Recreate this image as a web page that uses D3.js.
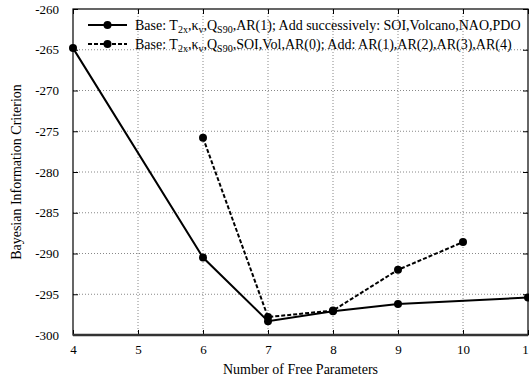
<!DOCTYPE html>
<html>
<head>
<meta charset="utf-8">
<script src="https://cdn.jsdelivr.net/npm/d3@7"></script>
<style>
  body { margin: 0; background: #fff; }
  text { font-family: "Liberation Serif", "Times New Roman", serif; }
</style>
</head>
<body>
<svg id="chart" width="529" height="380"></svg>
<script>
// data
const xTicks = [4, 5, 6, 7, 8, 9, 10, 11];
const yTicks = [-260, -265, -270, -275, -280, -285, -290, -295, -300];

const solidX = [4, 6, 7, 8, 9, 11];
const solidY = [-264.8, -290.5, -298.3, -297.1, -296.2, -295.4];

const dashX = [6, 7, 8, 9, 10];
const dashY = [-275.8, -297.8, -297.0, -292.0, -288.6];

const serif = "Liberation Serif, Times New Roman, serif";
const svg = d3.select("#chart").attr("font-family", serif);
const margin = { left: 73, right: 1, top: 9, bottom: 45 };
const width = 529, height = 380;

const x = d3.scaleLinear().domain([4, 11]).range([margin.left, width - margin.right]);
const y = d3.scaleLinear().domain([-300, -260]).range([height - margin.bottom, margin.top]);

// grid
const grid = svg.append("g").attr("stroke", "#888").attr("stroke-width", 1).attr("stroke-dasharray", "1,2");
grid.selectAll("line.v").data(xTicks.slice(1, -1)).join("line")
  .attr("x1", d => x(d)).attr("x2", d => x(d))
  .attr("y1", y(-300)).attr("y2", y(-260));
grid.selectAll("line.h").data(yTicks.slice(1, -1)).join("line")
  .attr("x1", x(4)).attr("x2", x(11))
  .attr("y1", d => y(d)).attr("y2", d => y(d));

// axes, ticks pointing inward on all four sides
const tickStyle = g => {
  g.attr("font-family", null).attr("font-size", 13);
  g.select(".domain").remove();
  g.selectAll("text").attr("fill", "#000").style("font-family", serif);
  g.selectAll("line").attr("stroke", "#000");
};
const fmt = d => String(d);
svg.append("g").attr("transform", `translate(0,${y(-300)})`)
  .call(d3.axisBottom(x).tickValues(xTicks).tickSize(-5).tickPadding(10).tickFormat(fmt))
  .call(tickStyle);
svg.append("g").attr("transform", `translate(0,${y(-260)})`)
  .call(d3.axisTop(x).tickValues(xTicks).tickSize(-5).tickFormat(""))
  .call(tickStyle);
svg.append("g").attr("transform", `translate(${x(4)},0)`)
  .call(d3.axisLeft(y).tickValues(yTicks).tickSize(-5).tickPadding(14).tickFormat(fmt))
  .call(tickStyle);
svg.append("g").attr("transform", `translate(${x(11)},0)`)
  .call(d3.axisRight(y).tickValues(yTicks).tickSize(-5).tickFormat(""))
  .call(tickStyle);

// frame
svg.append("rect")
  .attr("x", x(4)).attr("y", y(-260))
  .attr("width", x(11) - x(4)).attr("height", y(-300) - y(-260))
  .attr("fill", "none").attr("stroke", "#000").attr("stroke-width", 1.2);
svg.append("line")
  .attr("x1", x(4)).attr("x2", x(11)).attr("y1", y(-300)).attr("y2", y(-300))
  .attr("stroke", "#333").attr("stroke-width", 2.5);

// series
const line = d3.line().x(d => x(d[0])).y(d => y(d[1]));
const solid = solidX.map((v, i) => [v, solidY[i]]);
const dashed = dashX.map((v, i) => [v, dashY[i]]);

svg.append("path").datum(dashed).attr("d", line)
  .attr("fill", "none").attr("stroke", "#000").attr("stroke-width", 2).attr("stroke-dasharray", "4,2");
svg.append("path").datum(solid).attr("d", line)
  .attr("fill", "none").attr("stroke", "#000").attr("stroke-width", 2);

svg.append("g").selectAll("circle").data(solid.concat(dashed)).join("circle")
  .attr("cx", d => x(d[0])).attr("cy", d => y(d[1])).attr("r", 4).attr("fill", "#000");

// legend
const legend = svg.append("g").attr("transform", "translate(88,25)");
const legendRows = [
  { dash: null, parts: [["Base: T"], ["2x", "sub"], [",κ"], ["v", "sub"], [",Q"], ["S90", "sub"], [",AR(1); Add successively: SOI,Volcano,NAO,PDO"]] },
  { dash: "4,2", parts: [["Base: T"], ["2x", "sub"], [",κ"], ["v", "sub"], [",Q"], ["S90", "sub"], [",SOI,Vol,AR(0); Add: AR(1),AR(2),AR(3),AR(4)"]] }
];
legendRows.forEach((row, i) => {
  const g = legend.append("g").attr("transform", `translate(0,${i * 19})`);
  g.append("line").attr("x1", 0).attr("x2", 39).attr("y1", 0).attr("y2", 0)
    .attr("stroke", "#000").attr("stroke-width", 2).attr("stroke-dasharray", row.dash);
  g.append("circle").attr("cx", 19.5).attr("cy", 0).attr("r", 4).attr("fill", "#000");
  const t = g.append("text").attr("x", 47).attr("y", 4.5).attr("font-size", 14);
  row.parts.forEach(p => {
    const s = t.append("tspan").text(p[0]);
    if (p[1] === "sub") s.attr("font-size", 10).attr("dy", 3);
    else if (t.selectAll("tspan").size() > 1) s.attr("dy", -3);
  });
});

// axis titles
svg.append("text")
  .attr("x", (x(4) + x(11)) / 2).attr("y", 374)
  .attr("text-anchor", "middle").attr("font-size", 14)
  .text("Number of Free Parameters");
svg.append("text")
  .attr("transform", `translate(21,${(y(-300) + y(-260)) / 2}) rotate(-90)`)
  .attr("text-anchor", "middle").attr("font-size", 14)
  .text("Bayesian Information Criterion");
</script>
</body>
</html>
